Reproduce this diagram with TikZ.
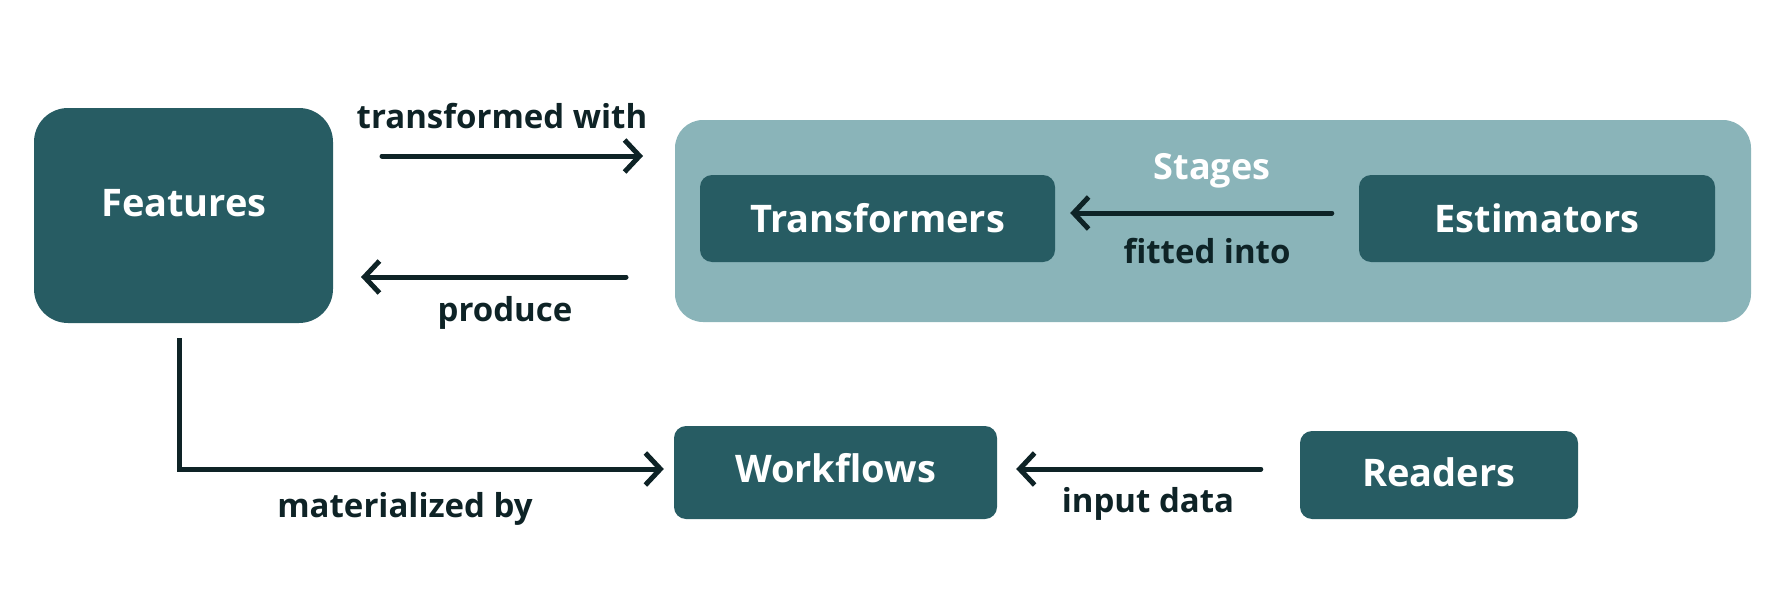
\documentclass[tikz,border=0pt]{standalone}
\usepackage{fontspec}
\setmainfont{Open Sans}
\usetikzlibrary{arrows.meta,calc}
\definecolor{teal}{HTML}{275C63}
\definecolor{lightteal}{HTML}{8AB4B9}
\definecolor{arr}{HTML}{0E2326}
\tikzset{
  box/.style={fill=teal, rounded corners=#1, inner sep=0pt, text=white, font=\bfseries\fontsize{38}{40}\selectfont},
  box/.default=12pt,
  lbl/.style={text=arr, font=\bfseries\fontsize{33}{35}\selectfont, inner sep=0pt},
  conn/.style={draw=arr, line width=5pt, line cap=round, -{Straight Barb[length=15pt,width=32pt,line width=5pt]}}
}
\begin{document}
\begin{tikzpicture}[x=1pt,y=-1pt]
\useasboundingbox (0,0) rectangle (1789,610);
% container
\node[fill=lightteal, rounded corners=28pt, minimum width=1076pt, minimum height=202pt, inner sep=0pt] (stages) at (1213,221) {};
\node[text=white, font=\bfseries\fontsize{36}{38}\selectfont, inner sep=0pt] (stagestxt) at (1212,171) {Stages};
% boxes
\node[box=34pt, minimum width=299pt, minimum height=215pt] (features) at (183.5,215.5) {};
\node[text=white, font=\bfseries\fontsize{38}{40}\selectfont, inner sep=0pt] (featurestxt) at (184,203) {Features};
\node[box, minimum width=355pt, minimum height=87pt] (transf) at (877.5,218.5) {Transformers};
\node[box, minimum width=356pt, minimum height=87pt] (estim) at (1537,218.5) {Estimators};
\node[box, minimum width=323pt, minimum height=93pt] (workf) at (835.5,472.5) {};
\node[text=white, font=\bfseries\fontsize{38}{40}\selectfont, inner sep=0pt] (workftxt) at (835.5,468) {Workflows};
\node[box, minimum width=278pt, minimum height=88pt] (readers) at (1439,475) {};
\node[text=white, font=\bfseries\fontsize{38}{40}\selectfont, inner sep=0pt] (readerstxt) at (1439,472) {Readers};
% coordinates
\coordinate (t1) at (382,156);
\coordinate (t2) at (643,156);
\coordinate (p1) at (626,277);
\coordinate (p2) at (361,277);
\coordinate (m1) at (179,338);
\coordinate (m2) at (179,469);
\coordinate (fy) at (0,213);
% connectors
\draw[conn] (t1) -- (t2);
\draw[conn] (p1) -- (p2);
\draw[conn] ($(estim.west |- fy)+(-27,0)$) -- ($(transf.east |- fy)+(15,0)$);
\draw[conn, line cap=butt] (m1) -- (m2) -- ($(workf.west |- m2)+(-10,0)$);
\draw[conn] ($(readers.west |- m2)+(-39,0)$) -- ($(workf.east |- m2)+(19,0)$);
% labels
\node[lbl] (l1) at (502,116) {transformed with};
\node[lbl] (l2) at (505,313) {produce};
\node[lbl] (l3) at (1207,251) {fitted into};
\node[lbl] (l4) at (405,509) {materialized by};
\node[lbl] (l5) at (1148,504) {input data};
\end{tikzpicture}
\end{document}
